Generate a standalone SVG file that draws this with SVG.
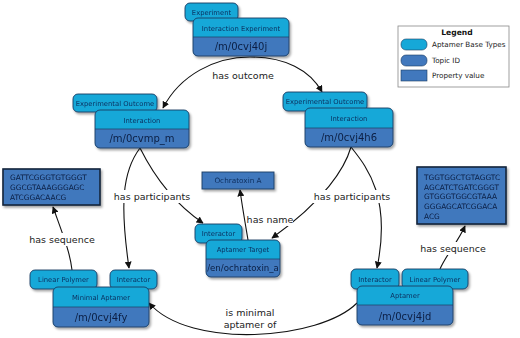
<svg xmlns="http://www.w3.org/2000/svg" width="520" height="338" viewBox="0 0 520 338">
<style>
.tab{fill:#16a8d8;stroke:#1c3c63;stroke-width:0.9}
.top{fill:#16a8d8}
.bot{fill:#4178bd}
.out{fill:none;stroke:#1c3c63;stroke-width:0.9}
.div{stroke:#1c3c63;stroke-width:0.7}
.prop{fill:#4178bd;stroke:#1c3c63;stroke-width:0.9}
.seq{fill:#4178bd;stroke:#14233a;stroke-width:1.6}
.tt{font-family:"DejaVu Sans",sans-serif;font-size:6.8px;fill:#0e2f5e;text-anchor:middle}
.id{font-family:"DejaVu Sans",sans-serif;font-size:10px;fill:#0b1f44;text-anchor:middle}
.sq{font-family:"DejaVu Sans",sans-serif;font-size:7.4px;fill:#0b1f44}
.lbl{font-family:"DejaVu Sans",sans-serif;font-size:9.5px;fill:#222;text-anchor:middle}
.lg{font-family:"DejaVu Sans",sans-serif;font-size:7.2px;fill:#222}
.bg{fill:#fff}
.edge{fill:none;stroke:#111;stroke-width:1.1;marker-end:url(#arr)}
</style>
<defs>
<marker id="arr" viewBox="0 0 10 10" refX="9" refY="5" markerWidth="7" markerHeight="7" orient="auto" markerUnits="userSpaceOnUse">
<path d="M0,0 L10,5 L0,10 z" fill="#111"/>
</marker>
<filter id="sh" x="-20%" y="-20%" width="140%" height="150%">
<feDropShadow dx="1.5" dy="2" stdDeviation="1.3" flood-color="#000" flood-opacity="0.35"/>
</filter>
</defs>
<rect width="520" height="338" fill="#fff"/>

<g id="connectors">
<path class="edge" d="M250,57 C215,57 180,75 163,108"/>
<path class="edge" d="M250,57 C285,57 310,70 322,92"/>
<path class="edge" d="M140,148 C122,172 120,205 129,268"/>
<path class="edge" d="M140,148 C152,172 172,202 203,223"/>
<path class="edge" d="M351,147 C345,168 325,200 272,238"/>
<path class="edge" d="M351,147 C365,165 392,195 377,268"/>
<path class="edge" d="M248,240 C245,222 242,205 240,190"/>
<path class="edge" d="M72,270 C70,252 63,235 53,207"/>
<path class="edge" d="M440,269 C446,255 458,242 465,226"/>
<path class="edge" d="M357,303 C320,340 190,350 149,303"/>
</g>

<g id="labels">
<text class="lbl" x="243" y="79">has outcome</text>
<rect class="bg" x="113" y="190" width="78" height="13"/>
<text class="lbl" x="152" y="200">has participants</text>
<rect class="bg" x="313" y="190" width="78" height="13"/>
<text class="lbl" x="352" y="200">has participants</text>
<rect class="bg" x="247" y="214" width="46" height="12"/>
<text class="lbl" x="270" y="223">has name</text>
<rect class="bg" x="29" y="233" width="66" height="13"/>
<text class="lbl" x="62" y="243">has sequence</text>
<rect class="bg" x="420" y="242" width="66" height="13"/>
<text class="lbl" x="453" y="252">has sequence</text>
<text class="lbl" x="250" y="316">is minimal</text>
<text class="lbl" x="250" y="328">aptamer of</text>
</g>

<g id="n-experiment" filter="url(#sh)">
<rect class="tab" x="185" y="3" width="53" height="18" rx="5"/>
<text class="tt" x="211.5" y="14.5">Experiment</text>
<rect class="top" x="193" y="18" width="96" height="38" rx="5"/>
<path class="bot" d="M193,37 H289 V51 Q289,56 284,56 H198 Q193,56 193,51 Z"/>
<line class="div" x1="193" y1="37" x2="289" y2="37"/>
<rect class="out" x="193" y="18" width="96" height="38" rx="5"/>
<text class="tt" x="241" y="30.5">Interaction Experiment</text>
<text class="id" x="241" y="50">/m/0cvj40j</text>
</g>

<g id="n-interaction-left" filter="url(#sh)">
<rect class="tab" x="73" y="94" width="84" height="18" rx="5"/>
<text class="tt" x="115" y="105.5">Experimental Outcome</text>
<rect class="top" x="95" y="110" width="94" height="38" rx="5"/>
<path class="bot" d="M95,129 H189 V143 Q189,148 184,148 H100 Q95,148 95,143 Z"/>
<line class="div" x1="95" y1="129" x2="189" y2="129"/>
<rect class="out" x="95" y="110" width="94" height="38" rx="5"/>
<text class="tt" x="142" y="122.5">Interaction</text>
<text class="id" x="142" y="142">/m/0cvmp_m</text>
</g>

<g id="n-interaction-right" filter="url(#sh)">
<rect class="tab" x="283" y="92" width="84" height="19" rx="5"/>
<text class="tt" x="325" y="104">Experimental Outcome</text>
<rect class="top" x="305" y="108" width="88" height="39" rx="5"/>
<path class="bot" d="M305,128 H393 V142 Q393,147 388,147 H310 Q305,147 305,142 Z"/>
<line class="div" x1="305" y1="128" x2="393" y2="128"/>
<rect class="out" x="305" y="108" width="88" height="39" rx="5"/>
<text class="tt" x="349" y="120.5">Interaction</text>
<text class="id" x="349" y="141">/m/0cvj4h6</text>
</g>

<g id="n-ochratoxin" filter="url(#sh)">
<rect class="prop" x="202" y="172" width="72" height="17"/>
<text class="tt" x="238" y="183.3" style="font-size:7.3px">Ochratoxin A</text>
</g>

<g id="n-aptamer-target" filter="url(#sh)">
<rect class="tab" x="195" y="224" width="47" height="19" rx="5"/>
<text class="tt" x="218.5" y="236">Interactor</text>
<rect class="top" x="206" y="240" width="74" height="37" rx="5"/>
<path class="bot" d="M206,259 H280 V272 Q280,277 275,277 H211 Q206,277 206,272 Z"/>
<line class="div" x1="206" y1="259" x2="280" y2="259"/>
<rect class="out" x="206" y="240" width="74" height="37" rx="5"/>
<text class="tt" x="243" y="252">Aptamer Target</text>
<text class="id" x="243" y="271" style="font-size:8.6px">/en/ochratoxin_a</text>
</g>

<g id="n-seq-left" filter="url(#sh)">
<rect class="seq" x="3" y="169" width="97" height="36"/>
<text class="sq" x="10" y="180">GATTCGGGTGTGGGT</text>
<text class="sq" x="10" y="190">GGCGTAAAGGGAGC</text>
<text class="sq" x="10" y="200">ATCGGACAACG</text>
</g>

<g id="n-seq-right" filter="url(#sh)">
<rect class="seq" x="417" y="167" width="89" height="57"/>
<text class="sq" x="424" y="180">TGGTGGCTGTAGGTC</text>
<text class="sq" x="424" y="189.5">AGCATCTGATCGGGT</text>
<text class="sq" x="424" y="199">GTGGGTGGCGTAAA</text>
<text class="sq" x="424" y="209">GGGAGCATCGGACA</text>
<text class="sq" x="424" y="219">ACG</text>
</g>

<g id="n-minimal-aptamer" filter="url(#sh)">
<rect class="tab" x="30" y="270" width="67" height="19" rx="5"/>
<text class="tt" x="63.5" y="282">Linear Polymer</text>
<rect class="tab" x="110" y="270" width="47" height="19" rx="5"/>
<text class="tt" x="133.5" y="282">Interactor</text>
<rect class="top" x="53" y="287" width="96" height="40" rx="5"/>
<path class="bot" d="M53,307 H149 V322 Q149,327 144,327 H58 Q53,327 53,322 Z"/>
<line class="div" x1="53" y1="307" x2="149" y2="307"/>
<rect class="out" x="53" y="287" width="96" height="40" rx="5"/>
<text class="tt" x="101" y="299.5">Minimal Aptamer</text>
<text class="id" x="101" y="321">/m/0cvj4fy</text>
</g>

<g id="n-aptamer" filter="url(#sh)">
<rect class="tab" x="351" y="269" width="48" height="20" rx="5"/>
<text class="tt" x="375" y="281.5">Interactor</text>
<rect class="tab" x="402" y="269" width="66" height="20" rx="5"/>
<text class="tt" x="435" y="281.5">Linear Polymer</text>
<rect class="top" x="357" y="286" width="96" height="39" rx="5"/>
<path class="bot" d="M357,305 H453 V320 Q453,325 448,325 H362 Q357,325 357,320 Z"/>
<line class="div" x1="357" y1="305" x2="453" y2="305"/>
<rect class="out" x="357" y="286" width="96" height="39" rx="5"/>
<text class="tt" x="405" y="298">Aptamer</text>
<text class="id" x="405" y="319.5">/m/0cvj4jd</text>
</g>

<g id="legend">
<rect x="398" y="26" width="111" height="61" fill="#fff" stroke="#888" stroke-width="0.8"/>
<text x="457" y="35" font-family="DejaVu Sans, sans-serif" font-size="7.6px" font-weight="bold" fill="#111" text-anchor="middle">Legend</text>
<rect x="401" y="39" width="26" height="11" rx="5" fill="#16a8d8" stroke="#1c3c63" stroke-width="0.6"/>
<text class="lg" x="432" y="47">Aptamer Base Types</text>
<rect x="401" y="55" width="26" height="11" rx="5" fill="#4178bd" stroke="#1c3c63" stroke-width="0.6"/>
<text class="lg" x="432" y="63">Topic ID</text>
<rect x="401" y="70" width="26" height="11" fill="#4178bd" stroke="#1c3c63" stroke-width="0.6"/>
<text class="lg" x="432" y="78">Property value</text>
</g>
</svg>
